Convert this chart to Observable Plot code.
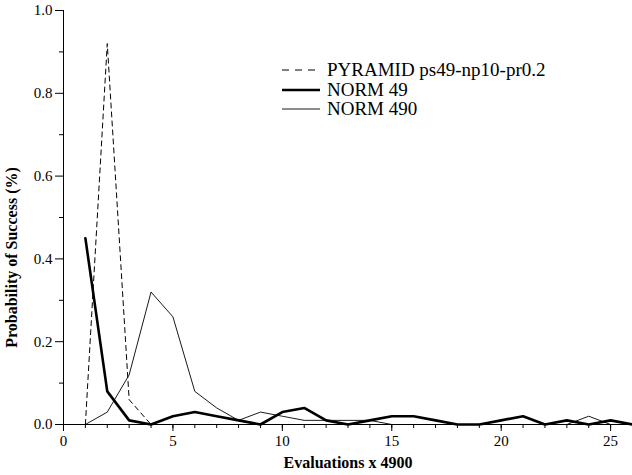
<!DOCTYPE html>
<html>
<head>
<meta charset="utf-8">
<script src="https://cdn.jsdelivr.net/npm/d3@7"></script>
<script src="https://cdn.jsdelivr.net/npm/@observablehq/plot@0.6"></script>
<style>
  html, body { margin: 0; padding: 0; background: #fff; }
  #wrap { position: relative; width: 632px; height: 475px; font-family: "Liberation Serif", "Times New Roman", serif; }
  #legend { position: absolute; left: 280px; top: 60px; font-size: 19px; color: #000; }
  .row { display: flex; align-items: center; height: 19.5px; line-height: 19.5px; }
  .row svg { width: 42px; height: 19px; margin-right: 5px; flex: none; }
</style>
</head>
<body>
<div id="wrap"><div id="legend"></div></div>
<script>
const evals = [1,2,3,4,5,6,7,8,9,10,11,12,13,14,15,16,17,18,19,20,21,22,23,24,25,26];
const pyramidX = [1,2,3,4];
const pyramid = [0, 0.92, 0.06, 0];
const norm49 = [0.45,0.08,0.01,0,0.02,0.03,0.02,0.01,0,0.03,0.04,0.01,0,0.01,0.02,0.02,0.01,0,0,0.01,0.02,0,0.01,0,0.01,0];
const norm490 = [0,0.03,0.12,0.32,0.26,0.08,0.04,0.01,0.03,0.02,0.01,0.01,0.01,0.01,0,0,0,0,0,0,0,0,0,0.02,0,0];
const seriesNames = ["PYRAMID ps49-np10-pr0.2", "NORM 49", "NORM 490"];
const xMajor = [0,5,10,15,20,25];
const xMinor = d3.range(0, 27);
const yMajor = [0,0.2,0.4,0.6,0.8,1.0];
const yMinor = [0.1,0.3,0.5,0.7,0.9];

const styles = [
  {stroke: "#000", strokeWidth: 1, strokeDasharray: "5,4"},
  {stroke: "#000", strokeWidth: 2.6},
  {stroke: "#000", strokeWidth: 0.9}
];

const pyrData = pyramidX.map((x, i) => ({x, y: pyramid[i]}));
const n49Data = evals.map((x, i) => ({x, y: norm49[i]}));
const n490Data = evals.map((x, i) => ({x, y: norm490[i]}));

const chart = Plot.plot({
  width: 632,
  height: 475,
  marginLeft: 63,
  marginRight: 0,
  marginTop: 10,
  marginBottom: 51,
  x: {domain: [0, 26]},
  y: {domain: [0, 1]},
  style: {fontFamily: "'Liberation Serif', 'Times New Roman', serif", fontSize: "15px", color: "#000", background: "#fff"},
  marks: [
    Plot.axisX({ticks: xMajor, tickSize: 7, tickPadding: 4, tickFormat: d => String(d), label: null, fontSize: 15}),
    Plot.axisX({ticks: xMinor, tickSize: 4, text: null, label: null}),
    Plot.axisY({ticks: yMajor, tickSize: 8, tickPadding: 3, tickFormat: ".1f", label: null, fontSize: 15}),
    Plot.axisY({ticks: yMinor, tickSize: 4, text: null, label: null}),
    Plot.ruleX([0], {stroke: "#000", strokeWidth: 1}),
    Plot.ruleY([0], {stroke: "#000", strokeWidth: 1}),
    Plot.line(n490Data, {x: "x", y: "y", ...styles[2]}),
    Plot.line(pyrData, {x: "x", y: "y", ...styles[0]}),
    Plot.line(n49Data, {x: "x", y: "y", ...styles[1], strokeLinejoin: "miter"}),
    Plot.text(["Evaluations x 4900"], {frameAnchor: "bottom", textAnchor: "middle", lineAnchor: "middle", dy: 38, fontWeight: "bold", fontSize: 16}),
    Plot.text(["Probability of Success (%)"], {frameAnchor: "left", textAnchor: "middle", lineAnchor: "middle", rotate: -90, dx: -52, dy: 40, fontWeight: "bold", fontSize: 16})
  ]
});
const wrap = document.getElementById("wrap");
wrap.insertBefore(chart, wrap.firstChild);

const legend = document.getElementById("legend");
seriesNames.forEach((name, i) => {
  const s = styles[i];
  const row = document.createElement("div");
  row.className = "row";
  row.innerHTML = `<svg><line x1="2" x2="40" y1="10" y2="10" stroke="#000" stroke-width="${s.strokeWidth}" ${s.strokeDasharray ? `stroke-dasharray="7,6"` : ""}/></svg><span>${name}</span>`;
  legend.appendChild(row);
});
</script>
</body>
</html>
